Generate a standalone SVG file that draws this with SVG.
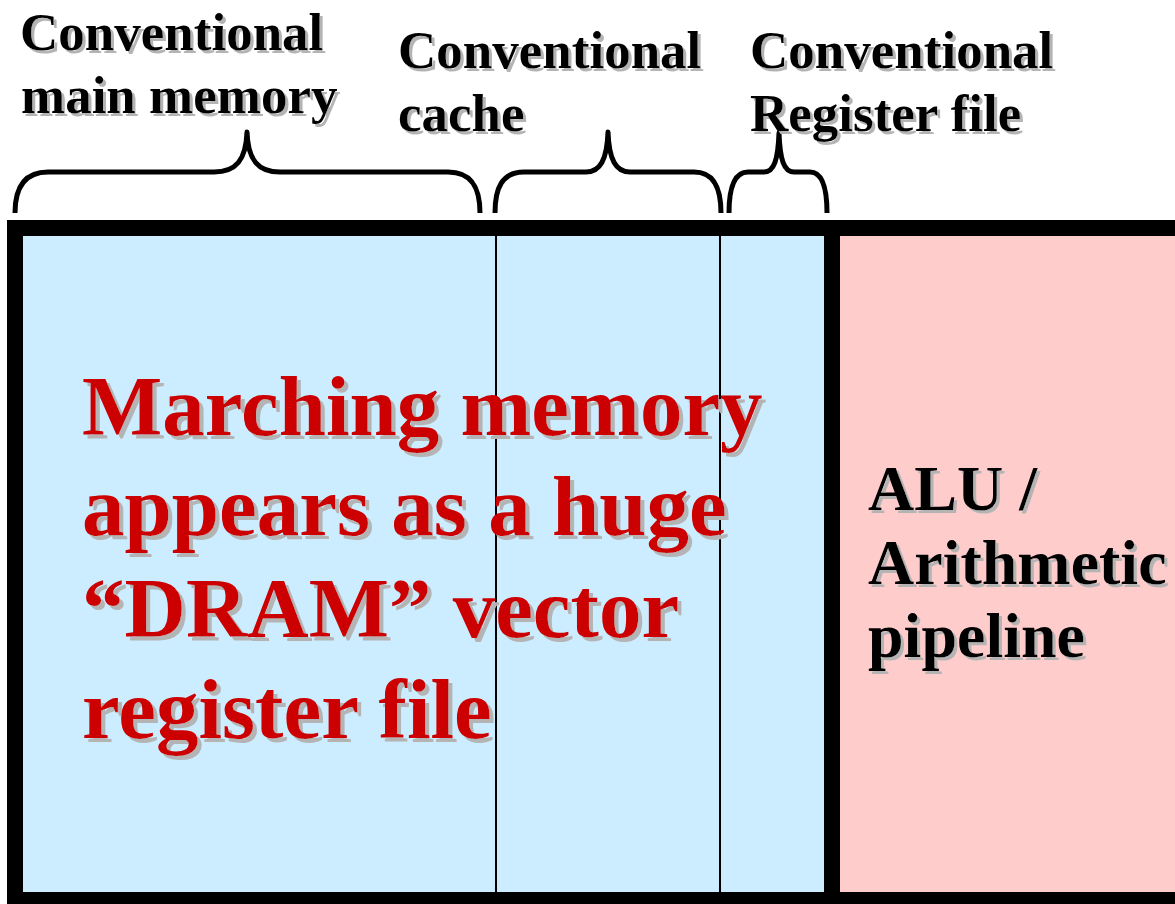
<svg xmlns="http://www.w3.org/2000/svg" width="1175" height="904" viewBox="0 0 1175 904">
  <defs>
    <filter id="shadow" x="-5%" y="-20%" width="110%" height="140%">
      <feOffset in="SourceAlpha" dx="3" dy="3" result="off"/>
      <feFlood flood-color="#b4b4b4"/>
      <feComposite in2="off" operator="in" result="sh"/>
      <feMerge>
        <feMergeNode in="sh"/>
        <feMergeNode in="SourceGraphic"/>
      </feMerge>
    </filter>
    <filter id="shadowBig" x="-5%" y="-20%" width="110%" height="140%">
      <feOffset in="SourceAlpha" dx="4" dy="4" result="off"/>
      <feFlood flood-color="#b4b4b4"/>
      <feComposite in2="off" operator="in" result="sh"/>
      <feMerge>
        <feMergeNode in="sh"/>
        <feMergeNode in="SourceGraphic"/>
      </feMerge>
    </filter>
  </defs>
  <style>
    .lbl { font-family: "Liberation Serif", "Times New Roman", serif; font-weight: bold; font-size: 53px; fill: #000; filter: url(#shadow); }
    .alu { font-family: "Liberation Serif", "Times New Roman", serif; font-weight: bold; font-size: 64px; fill: #000; filter: url(#shadow); }
    .big { font-family: "Liberation Serif", "Times New Roman", serif; font-weight: bold; font-size: 85px; fill: #cc0000; filter: url(#shadowBig); }
    .brace { fill: none; stroke: #000; stroke-width: 5; stroke-linecap: butt; stroke-linejoin: round; }
    .thin { stroke: #000; stroke-width: 2; }
  </style>

  <rect width="1175" height="904" fill="#ffffff"/>

  <!-- memory side: main memory, cache and register file columns -->
  <g id="memory">
    <rect x="15" y="228" width="817" height="672" fill="#ccecff"/>
    <line class="thin" x1="496" y1="236" x2="496" y2="892"/>
    <line class="thin" x1="720" y1="236" x2="720" y2="892"/>
    <text class="big" x="82" y="435">Marching memory</text>
    <text class="big" x="82" y="535">appears as a huge</text>
    <text class="big" x="82" y="637">“DRAM” vector</text>
    <text class="big" x="82" y="738">register file</text>
  </g>

  <!-- arithmetic side -->
  <g id="alu">
    <rect x="832" y="228" width="360" height="672" fill="#ffcccc"/>
    <text class="alu" x="868" y="510">ALU /</text>
    <text class="alu" x="868" y="584">Arithmetic</text>
    <text class="alu" x="868" y="657">pipeline</text>
  </g>

  <!-- heavy outline and the memory/ALU boundary -->
  <g id="frame" fill="none" stroke="#000" stroke-width="16">
    <rect x="15" y="228" width="1200" height="672"/>
    <line x1="832" y1="228" x2="832" y2="900"/>
  </g>

  <!-- braces over each column -->
  <g id="connectors">
    <path class="brace" d="M15,213 C15,188 24,172 48,172 L214,172 C236,172 246,160 247,132 C248,160 258,172 280,172 L448,172 C472,172 480,188 480,213"/>
    <path class="brace" d="M495,213 C495,188 502,172 524,172 L586,172 C600,172 607,160 608,132 C609,160 616,172 630,172 L694,172 C714,172 721,188 721,213"/>
    <path class="brace" d="M729,213 C729,188 734,172 748,172 L764,172 C774,172 778,160 779,133 C780,160 784,172 794,172 L810,172 C822,172 827,188 827,213"/>
  </g>

  <!-- column labels -->
  <g id="label-main-memory">
    <text class="lbl" x="20" y="50">Conventional</text>
    <text class="lbl" x="21" y="113">main memory</text>
  </g>
  <g id="label-cache">
    <text class="lbl" x="398" y="68">Conventional</text>
    <text class="lbl" x="398" y="131">cache</text>
  </g>
  <g id="label-register-file">
    <text class="lbl" x="750" y="68">Conventional</text>
    <text class="lbl" x="750" y="131">Register file</text>
  </g>
</svg>
